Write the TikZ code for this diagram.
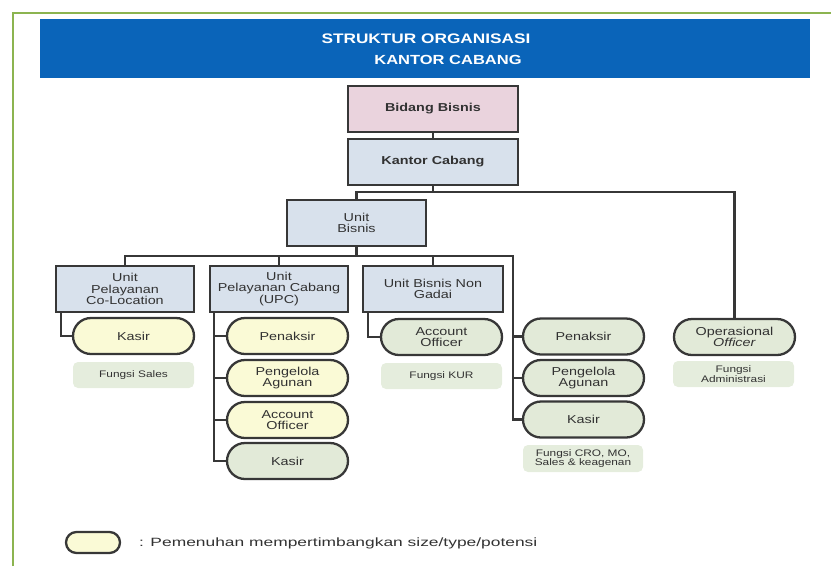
\documentclass[tikz,border=0pt]{standalone}
\usepackage{fontspec}
\setmainfont{Liberation Sans}[FakeStretch=1.25]
\newfontfamily\legendfont{Liberation Sans}[FakeStretch=1.45]
\usetikzlibrary{shapes.misc}
\definecolor{bannerblue}{RGB}{10,100,185}
\definecolor{framegreen}{RGB}{140,180,80}
\definecolor{pinkfill}{RGB}{234,211,221}
\definecolor{bluefill}{RGB}{216,225,236}
\definecolor{yellowfill}{RGB}{250,250,214}
\definecolor{greenfill}{RGB}{226,234,216}
\definecolor{labelfill}{RGB}{229,237,221}
\definecolor{linedark}{RGB}{55,55,55}
\definecolor{textdark}{RGB}{50,50,50}
\tikzset{
  unitbox/.style={draw=linedark, line width=2.3pt, fill=bluefill, minimum height=46pt, align=center, text=textdark, font=\fontsize{11.5}{11.5}\selectfont, inner sep=1pt},
  pill/.style={draw=linedark, line width=2.3pt, rounded rectangle, minimum width=123pt, minimum height=36pt, align=center, text=textdark, font=\fontsize{11.5}{11.5}\selectfont, inner sep=1pt},
  ypill/.style={pill, fill=yellowfill},
  gpill/.style={pill, fill=greenfill},
  fungsi/.style={fill=labelfill, rounded corners=5pt, minimum width=121pt, minimum height=26pt, align=center, text=textdark, font=\fontsize{9.5}{9.5}\selectfont, inner sep=1pt},
  conn/.style={draw=linedark, line width=2.1pt},
}
\begin{document}
\begin{tikzpicture}[x=1pt,y=-1pt]
\useasboundingbox (0,0) rectangle (831,566);
% frame
\draw[framegreen, line width=2pt] (13,566) -- (13,12.5) -- (831,12.5);
% banner
\node[fill=bannerblue, minimum width=770pt, minimum height=59pt, inner sep=0pt] (banner) at (425,48.5) {};
\node[text=white, font=\bfseries\fontsize{13.8}{14}\selectfont, inner sep=0pt] (title1) at (426,39) {STRUKTUR ORGANISASI};
\node[text=white, font=\bfseries\fontsize{13.2}{14}\selectfont, inner sep=0pt] (title2) at (448,60) {KANTOR CABANG};
% top boxes
\node[unitbox, fill=pinkfill, minimum width=170pt, font=\bfseries\fontsize{11.5}{11.5}\selectfont] (bb) at (433,109) {Bidang Bisnis};
\node[unitbox, minimum width=170pt, font=\bfseries\fontsize{11.5}{11.5}\selectfont] (kc) at (433,162) {Kantor Cabang};
\node[unitbox, minimum width=139pt] (ub) at (356.5,223) {Unit\\Bisnis};
% level 3
\node[unitbox, minimum width=138pt] (col) at (125,289) {Unit\\Pelayanan\\Co-Location};
\node[unitbox, minimum width=138pt] (upc) at (279,289) {Unit\\Pelayanan Cabang\\(UPC)};
\node[unitbox, minimum width=140pt] (ubng) at (433,289) {Unit Bisnis Non\\Gadai};
% pills
\node[ypill] (k1) at (133.5,336) {Kasir};
\node[fungsi] (fs) at (133.5,375) {Fungsi Sales};
\node[ypill] (p2) at (287.5,336) {Penaksir};
\node[ypill] (g2) at (287.5,378) {Pengelola\\Agunan};
\node[ypill] (a2) at (287.5,420) {Account\\Officer};
\node[gpill] (k2) at (287.5,461) {Kasir};
\node[gpill] (a3) at (441.5,337) {Account\\Officer};
\node[fungsi] (fk) at (441.5,376) {Fungsi KUR};
\node[gpill] (p4) at (583.5,336.5) {Penaksir};
\node[gpill] (g4) at (583.5,378) {Pengelola\\Agunan};
\node[gpill] (k4) at (583.5,419.5) {Kasir};
\node[fungsi, minimum width=120pt, minimum height=27pt] (fc) at (583,458.5) {Fungsi CRO, MO,\\Sales \& keagenan};
\node[gpill] (oo) at (734.5,337) {Operasional\\\textit{Officer}};
\node[fungsi] (fa) at (733.5,374) {Fungsi\\Administrasi};
% connectors
\coordinate (bar1) at (0,192);
\coordinate (bar2) at (0,256);
\coordinate (trunk4) at (513,256);
\draw[conn] (bb.south) -- (kc.north);
\draw[conn] (kc.south) -- (kc.south |- bar1);
\draw[conn] (ub.north) -- (ub.north |- bar1) -| (oo.north);
\draw[conn] (ub.south) -- (ub.south |- bar2);
\draw[conn] (col.north) -- (col.north |- bar2) -- (trunk4) -- (trunk4 |- k4.west) -- (k4.west);
\draw[conn] (upc.north) -- (upc.north |- bar2);
\draw[conn] (ubng.north) -- (ubng.north |- bar2);
\draw[conn] (trunk4 |- p4.west) -- (p4.west);
\draw[conn] (trunk4 |- g4.west) -- (g4.west);
\draw[conn] ([xshift=-64pt]col.south) |- (k1.west);
\draw[conn] ([xshift=-65pt]upc.south) |- (k2.west);
\draw[conn] ([xshift=-65pt]upc.south |- p2.west) -- (p2.west);
\draw[conn] ([xshift=-65pt]upc.south |- g2.west) -- (g2.west);
\draw[conn] ([xshift=-65pt]upc.south |- a2.west) -- (a2.west);
\draw[conn] ([xshift=-65pt]ubng.south) |- (a3.west);
% legend
\node[pill, fill=yellowfill, minimum width=56pt, minimum height=21pt] (leg) at (93,542.5) {};
\node[anchor=west, text=textdark, font=\legendfont\fontsize{12}{12}\selectfont, inner sep=0pt] (legtext) at (139,543) {: Pemenuhan mempertimbangkan size/type/potensi};
\end{tikzpicture}
\end{document}
